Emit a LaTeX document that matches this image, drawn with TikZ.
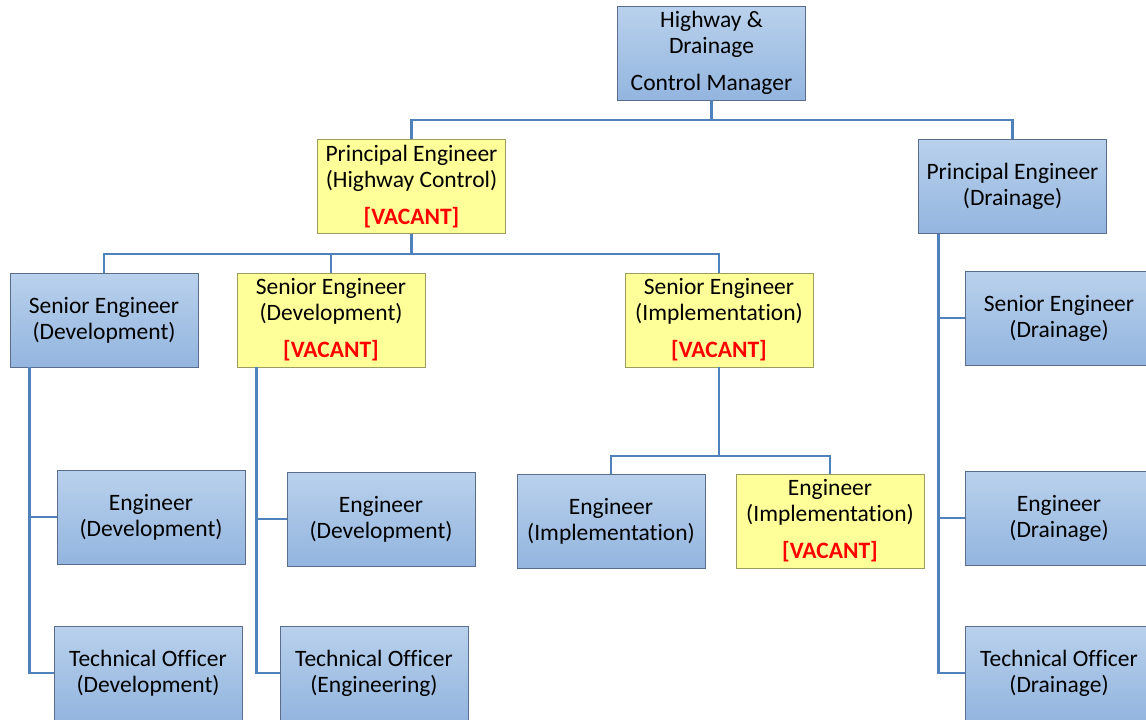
\documentclass[tikz,border=0pt]{standalone}
\usepackage{fontspec}
\setmainfont[Ligatures=NoCommon]{Carlito}
\definecolor{linkblue}{HTML}{4F81BD}
\definecolor{boxtop}{HTML}{B9D1EC}
\definecolor{boxbottom}{HTML}{93B5DF}
\definecolor{boxedge}{HTML}{5A6E8C}
\definecolor{vacfill}{HTML}{FFFF99}
\definecolor{vacedge}{HTML}{9C9C5E}
\definecolor{vacred}{HTML}{FF0000}
\tikzset{
  post/.style={rectangle, minimum width=188pt, minimum height=94pt, inner sep=0pt,
    align=center, font=\fontsize{23.5}{26}\selectfont, line width=0.8pt},
  filled/.style={post, draw=boxedge, top color=boxtop, bottom color=boxbottom},
  vacant/.style={post, draw=vacedge, fill=vacfill},
  link/.style={draw=linkblue, line width=2.8pt},
}
\newcommand{\vac}{\\[11pt]{\bfseries\color{vacred}[VACANT]}}
\begin{document}
\begin{tikzpicture}[x=1pt,y=-1pt]
\useasboundingbox (0,0) rectangle (1146,720);
\clip (0,0) rectangle (1146,720);

% junction points of the connectors
\coordinate (j0) at (711.5,120);
\coordinate (j1) at (411.5,254);
\coordinate (j2) at (719,456);

% posts
\node[filled] (mgr) at (711.5,53) {Highway \&\\Drainage\\[11pt]Control Manager};
\node[vacant] (peh) at (411.5,186.5) {Principal Engineer\\(Highway Control)\vac};
\node[filled] (ped) at (1012.5,186.5) {Principal Engineer\\(Drainage)};

\node[filled] (sed) at (104,320) {Senior Engineer\\(Development)};
\node[vacant] (sedv) at (331,320) {Senior Engineer\\(Development)\vac};
\node[vacant] (sei) at (719,320) {Senior Engineer\\(Implementation)\vac};
\node[filled] (sedr) at (1059,318) {Senior Engineer\\(Drainage)};

\node[filled] (ed1) at (151,517) {Engineer\\(Development)};
\node[filled] (ed2) at (381,519) {Engineer\\(Development)};
\node[filled] (ei1) at (611,521) {Engineer\\(Implementation)};
\node[vacant] (ei2) at (830,521) {Engineer\\(Implementation)\vac};
\node[filled] (edr) at (1059,518) {Engineer\\(Drainage)};

\node[filled] (tod) at (148,673) {Technical Officer\\(Development)};
\node[filled] (toe) at (374,673) {Technical Officer\\(Engineering)};
\node[filled] (todr) at (1059,673) {Technical Officer\\(Drainage)};

% links from the manager
\draw[link] (mgr.south) -- (j0);
\draw[link] (peh.north) |- (j0) -| (ped.north);

% links from the highway principal engineer
\draw[link] (peh.south) -- (j1);
\draw[link] (sed.north) |- (j1) -| (sei.north);
\draw[link] (sedv.north) -- (sedv.north |- j1);

% links from the senior engineers
\draw[link] ([xshift=20pt]sed.south west) |- (ed1.west);
\draw[link] ([xshift=20pt]sed.south west) |- (tod.west);
\draw[link] ([xshift=20pt]sedv.south west) |- (ed2.west);
\draw[link] ([xshift=20pt]sedv.south west) |- (toe.west);
\draw[link] (sei.south) -- (j2);
\draw[link] (ei1.north) |- (j2) -| (ei2.north);

% links from the drainage principal engineer
\draw[link] ([xshift=20pt]ped.south west) |- (sedr.west);
\draw[link] ([xshift=20pt]ped.south west) |- (edr.west);
\draw[link] ([xshift=20pt]ped.south west) |- (todr.west);
\end{tikzpicture}
\end{document}
